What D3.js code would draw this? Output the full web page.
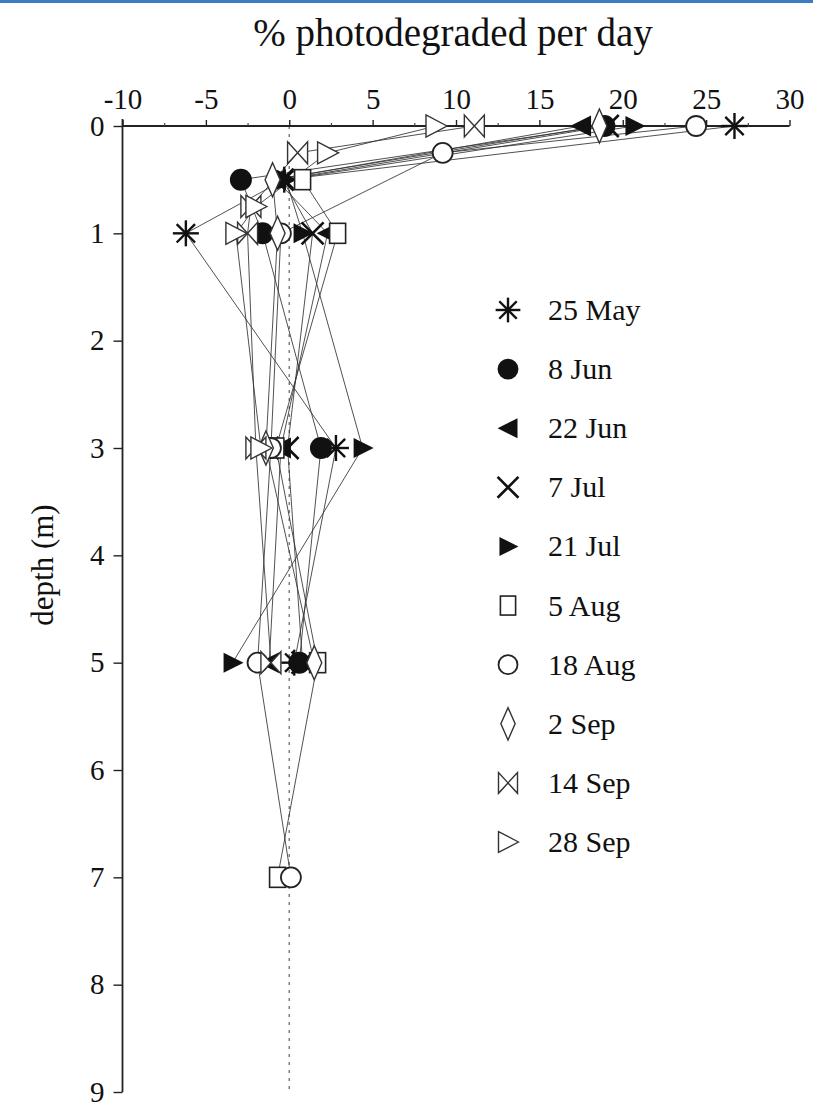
<!DOCTYPE html>
<html>
<head>
<meta charset="utf-8">
<script src="https://cdn.jsdelivr.net/npm/d3@7"></script>
<style>
  html, body { margin: 0; padding: 0; background: #fff; }
  svg { display: block; }
  text { font-family: "Liberation Serif", "Times New Roman", serif; fill: #111; }
</style>
</head>
<body>
<svg id="chart" width="813" height="1112"></svg>
<script>
// ---------------- data ----------------
const depths = [0, 0.25, 0.5, 0.75, 1, 3, 5, 7];
const seriesNames = ["25 May", "8 Jun", "22 Jun", "7 Jul", "21 Jul", "5 Aug", "18 Aug", "2 Sep", "14 Sep", "28 Sep"];
const seriesSymbols = ["star", "dot", "triLeft", "cross", "triRight", "square", "circle", "diamond", "bowtie", "triRightOpen"];
const may25 = [26.7, null, -0.3, null, -6.2, 2.8, 0.3, null];
const jun8  = [18.9, null, -2.9, null, -1.6, 1.9, 0.6, null];
const jun22 = [17.5, null, -0.8, null, 2.3, -0.5, -1.2, null];
const jul7  = [19.1, null, -0.4, null, 1.4, -0.1, 0.8, null];
const jul21 = [20.7, null, -0.2, null, 0.8, 4.4, -3.4, null];
const aug5  = [null, null, 0.8, null, 2.9, -0.8, 1.7, -0.7];
const aug18 = [24.4, 9.2, null, null, -0.5, -1.1, -1.9, 0.1];
const sep2  = [18.6, null, -1.0, null, -0.7, -1.4, 1.5, null];
const sep14 = [11.1, 0.5, null, -2.3, -2.5, -2.0, -1.1, null];
const sep28 = [8.8, 2.3, null, -2.0, -3.2, -1.7, null, null];
const seriesValues = [may25, jun8, jun22, jul7, jul21, aug5, aug18, sep2, sep14, sep28];
const xTicks = [-10, -5, 0, 5, 10, 15, 20, 25, 30];
const xMinorTicks = [-7.5, -2.5, 2.5, 7.5, 12.5, 17.5, 22.5, 27.5];
const yTicks = [0, 1, 2, 3, 4, 5, 6, 7, 8, 9];
const xTitle = "% photodegraded per day";
const yTitle = "depth (m)";

// ---------------- layout ----------------
const svg = d3.select("#chart");
const x = d3.scaleLinear().domain([-10, 30]).range([122.5, 789.5]);
const y = d3.scaleLinear().domain([0, 9]).range([126, 1092]);
const plain = d => String(d);   // hyphen-minus, as in the original

// top blue band
svg.append("rect").attr("x", 0).attr("y", 0).attr("width", 813).attr("height", 3).attr("fill", "#3d7cc0");

// dashed zero line
svg.append("line")
  .attr("x1", x(0)).attr("x2", x(0))
  .attr("y1", y(0)).attr("y2", y(9))
  .attr("stroke", "#777").attr("stroke-width", 1.4).attr("stroke-dasharray", "3,5");

// top axis
const xAxis = svg.append("g").attr("transform", `translate(0,${y(0)})`)
  .call(d3.axisTop(x).tickValues(xTicks).tickSize(6).tickPadding(11).tickFormat(plain));
xAxis.select(".domain").attr("stroke", "#222").attr("stroke-width", 1.8).attr("d", `M${x(-10)},0H${x(30)}`);
xAxis.selectAll(".tick line").attr("stroke", "#222").attr("stroke-width", 1.4);
xAxis.selectAll(".tick text").style("font-size", "29px").style("font-family", "'Liberation Serif', serif").attr("fill", "#111");
const xMinor = svg.append("g").attr("transform", `translate(0,${y(0)})`)
  .call(d3.axisTop(x).tickValues(xMinorTicks).tickSize(3).tickFormat(""));
xMinor.select(".domain").remove();
xMinor.selectAll(".tick line").attr("stroke", "#444").attr("stroke-width", 1.2);

// left axis
const yAxis = svg.append("g").attr("transform", `translate(${x(-10)},0)`)
  .call(d3.axisLeft(y).tickValues(yTicks).tickSize(9).tickPadding(9).tickFormat(plain));
yAxis.select(".domain").attr("stroke", "#222").attr("stroke-width", 1.8).attr("d", `M0,${y(0) - 7}V${y(9)}`);
yAxis.selectAll(".tick line").attr("stroke", "#222").attr("stroke-width", 1.4);
yAxis.selectAll(".tick text").style("font-size", "29px").style("font-family", "'Liberation Serif', serif").attr("fill", "#111");

// titles
svg.append("text").attr("x", 453).attr("y", 46).attr("text-anchor", "middle")
  .style("font-size", "39px").text(xTitle);
svg.append("text").attr("transform", `translate(53,565) rotate(-90)`)
  .attr("text-anchor", "middle").style("font-size", "31px").text(yTitle);

// symbol drawer
function drawSymbol(g, type, k) {
  switch (type) {
    case "star":
      [[0, -1], [1, 0], [0.7071, 0.7071], [0.7071, -0.7071]].forEach(([a, b]) => {
        g.append("line").attr("x1", -a * 13 * k).attr("y1", -b * 13 * k)
          .attr("x2", a * 13 * k).attr("y2", b * 13 * k)
          .attr("stroke", "#111").attr("stroke-width", 2.4);
      });
      break;
    case "dot":
      g.append("circle").attr("r", 11 * k).attr("fill", "#111");
      break;
    case "triLeft":
      g.append("path").attr("d", `M${-11 * k},0L${10 * k},${-10.5 * k}L${10 * k},${10.5 * k}Z`).attr("fill", "#111");
      break;
    case "triRight":
      g.append("path").attr("d", `M${11 * k},0L${-9 * k},${-10 * k}L${-9 * k},${10 * k}Z`).attr("fill", "#111");
      break;
    case "cross":
      g.append("path").attr("d", `M${-11 * k},${-11 * k}L${11 * k},${11 * k}M${11 * k},${-11 * k}L${-11 * k},${11 * k}`)
        .attr("stroke", "#111").attr("stroke-width", 2.6).attr("fill", "none");
      break;
    case "square":
      g.append("rect").attr("x", -8 * k).attr("y", -10 * k).attr("width", 16 * k).attr("height", 20 * k)
        .attr("fill", "#fff").attr("stroke", "#222").attr("stroke-width", 1.6);
      break;
    case "circle":
      g.append("circle").attr("r", 10 * k).attr("fill", "#fff").attr("stroke", "#222").attr("stroke-width", 1.8);
      break;
    case "diamond":
      g.append("path").attr("d", `M0,${-17 * k}L${7.5 * k},0L0,${17 * k}L${-7.5 * k},0Z`)
        .attr("fill", "#fff").attr("stroke", "#333").attr("stroke-width", 1.4);
      break;
    case "bowtie":
      g.append("path").attr("d", `M${-10 * k},${-11 * k}L${-10 * k},${11 * k}L0,0Z M${10 * k},${-11 * k}L${10 * k},${11 * k}L0,0Z`)
        .attr("fill", "#fff").attr("stroke", "#333").attr("stroke-width", 1.4);
      break;
    case "triRightOpen":
      g.append("path").attr("d", `M${11 * k},0L${-10 * k},${-11 * k}L${-10 * k},${11 * k}Z`)
        .attr("fill", "#fff").attr("stroke", "#333").attr("stroke-width", 1.4);
      break;
  }
}

// build series point lists
const series = seriesNames.map((name, i) => ({
  name,
  symbol: seriesSymbols[i],
  points: depths.map((d, j) => ({ depth: d, value: seriesValues[i][j] })).filter(p => p.value !== null)
}));

// lines
const line = d3.line().x(p => x(p.value)).y(p => y(p.depth));
svg.append("g").selectAll("path").data(series).join("path")
  .attr("d", s => line(s.points))
  .attr("fill", "none").attr("stroke", "#333").attr("stroke-width", 1).attr("stroke-opacity", 0.85);

// markers
series.forEach(s => {
  const gs = svg.append("g");
  s.points.forEach(p => {
    const g = gs.append("g").attr("transform", `translate(${x(p.value)},${y(p.depth)})`);
    drawSymbol(g, s.symbol, 1);
  });
});

// legend
const ly = d3.scalePoint().domain(seriesNames).range([310, 842]);
const legend = svg.append("g");
seriesNames.forEach((name, i) => {
  const g = legend.append("g").attr("transform", `translate(508,${ly(name)})`);
  drawSymbol(g, seriesSymbols[i], 0.95);
  legend.append("text").attr("x", 548).attr("y", ly(name) + 10).style("font-size", "30px").text(name);
});
</script>
</body>
</html>
